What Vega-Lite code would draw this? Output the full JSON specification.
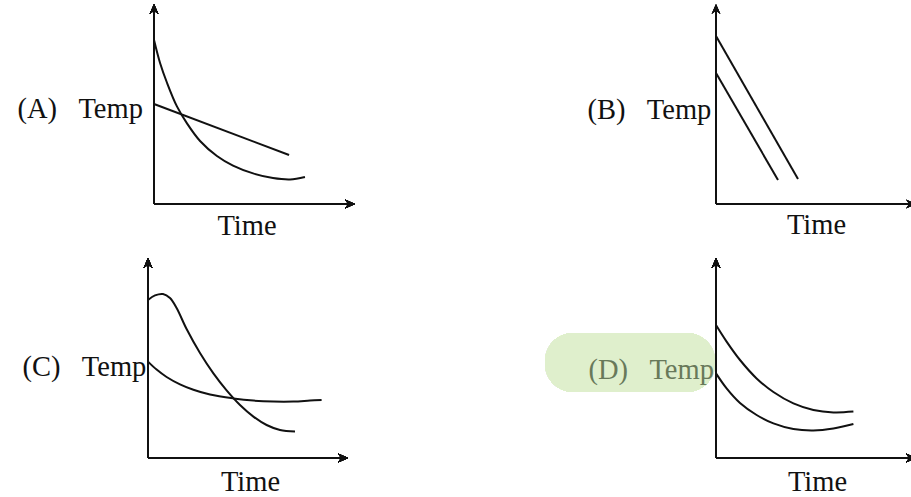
{
  "$schema": "https://vega.github.io/schema/vega-lite/v6.json",
  "padding": {"left": 17, "top": 4, "right": 0, "bottom": 0},
  "background": "white",
  "config": {
    "view": {"stroke": null},
    "axis": {"domain": false, "ticks": false, "labels": false, "grid": false, "titleFont": "Liberation Serif", "titleFontSize": 28.5, "titleFontWeight": "normal", "titleColor": "#111111", "titleAngle": 0, "titleBaseline": "alphabetic"},
    "line": {"color": "#111111", "strokeWidth": 2, "interpolate": "catmull-rom"},
    "rule": {"color": "#111111", "strokeWidth": 2},
    "point": {"color": "#111111", "filled": true, "opacity": 1}
  },
  "datasets": {
    "A": [
      {"series": "fast", "t": 0, "temp": 82}, {"series": "fast", "t": 3, "temp": 70.5}, {"series": "fast", "t": 6.5, "temp": 60.5}, {"series": "fast", "t": 11.4, "temp": 48.8}, {"series": "fast", "t": 16.4, "temp": 40.3}, {"series": "fast", "t": 22.9, "temp": 31.5}, {"series": "fast", "t": 31.3, "temp": 24}, {"series": "fast", "t": 39.3, "temp": 19.2}, {"series": "fast", "t": 49.3, "temp": 15.3}, {"series": "fast", "t": 59.2, "temp": 13}, {"series": "fast", "t": 67.7, "temp": 12.3}, {"series": "fast", "t": 75.1, "temp": 13.5},
      {"series": "slow", "t": 0, "temp": 50}, {"series": "slow", "t": 67.2, "temp": 24.5}
    ],
    "B": [
      {"series": "upper", "t": 0, "temp": 84}, {"series": "upper", "t": 41, "temp": 12.5},
      {"series": "lower", "t": 0, "temp": 65.5}, {"series": "lower", "t": 31, "temp": 12}
    ],
    "C": [
      {"series": "hump", "t": 0, "temp": 79}, {"series": "hump", "t": 3.5, "temp": 81.3}, {"series": "hump", "t": 7.5, "temp": 82}, {"series": "hump", "t": 11, "temp": 80}, {"series": "hump", "t": 14.3, "temp": 75}, {"series": "hump", "t": 19.3, "temp": 64.5}, {"series": "hump", "t": 26, "temp": 52.5}, {"series": "hump", "t": 32.7, "temp": 42.3}, {"series": "hump", "t": 39.3, "temp": 33.8}, {"series": "hump", "t": 46, "temp": 26.5}, {"series": "hump", "t": 52.7, "temp": 20.7}, {"series": "hump", "t": 59.3, "temp": 16.5}, {"series": "hump", "t": 66, "temp": 14}, {"series": "hump", "t": 73.5, "temp": 13.2},
      {"series": "flat", "t": 0, "temp": 48.2}, {"series": "flat", "t": 4.3, "temp": 44.2}, {"series": "flat", "t": 9.3, "temp": 40.5}, {"series": "flat", "t": 16, "temp": 36.8}, {"series": "flat", "t": 22.7, "temp": 34.1}, {"series": "flat", "t": 31, "temp": 31.7}, {"series": "flat", "t": 42.7, "temp": 29.8}, {"series": "flat", "t": 52.7, "temp": 28.7}, {"series": "flat", "t": 62.7, "temp": 28.2}, {"series": "flat", "t": 72.7, "temp": 28.2}, {"series": "flat", "t": 81, "temp": 28.7}, {"series": "flat", "t": 86.8, "temp": 29}
    ],
    "D": [
      {"series": "upper", "t": 0, "temp": 66.5}, {"series": "upper", "t": 5.3, "temp": 58.2}, {"series": "upper", "t": 12, "temp": 49}, {"series": "upper", "t": 20.3, "temp": 39.8}, {"series": "upper", "t": 28.7, "temp": 33}, {"series": "upper", "t": 38.7, "temp": 27.3}, {"series": "upper", "t": 48.7, "temp": 24}, {"series": "upper", "t": 58.7, "temp": 22.8}, {"series": "upper", "t": 68.7, "temp": 23.2},
      {"series": "lower", "t": 0, "temp": 42.3}, {"series": "lower", "t": 5.3, "temp": 34.8}, {"series": "lower", "t": 12, "temp": 27.5}, {"series": "lower", "t": 20.3, "temp": 21.5}, {"series": "lower", "t": 28.7, "temp": 17.3}, {"series": "lower", "t": 38.7, "temp": 14.5}, {"series": "lower", "t": 48.7, "temp": 13.8}, {"series": "lower", "t": 58.7, "temp": 14.8}, {"series": "lower", "t": 68.7, "temp": 17}
    ]
  },
  "columns": 2,
  "spacing": {"row": 54, "column": 361},
  "bounds": "flush",
  "concat": [
    {
      "width": 207, "height": 200,
      "data": {"name": "A"},
      "layer": [
        {"mark": "rule", "encoding": {"x": {"datum": 0}, "y": {"datum": 0}, "y2": {"datum": 98}}},
        {"mark": "rule", "encoding": {"x": {"datum": 0}, "x2": {"datum": 98}, "y": {"datum": 0}}},
        {"mark": {"type": "point", "shape": "M0,0L-1.1,2.5L0,1.7L1.1,2.5Z", "size": 64}, "encoding": {"x": {"datum": 0}, "y": {"datum": 100}}},
        {"mark": {"type": "point", "shape": "M0,0L-2.5,-1.1L-1.7,0L-2.5,1.1Z", "size": 64}, "encoding": {"x": {"datum": 100}, "y": {"datum": 0}}},
        {"mark": "line", "encoding": {
          "x": {"field": "t", "type": "quantitative", "scale": {"domain": [-3, 100], "nice": false, "zero": false}, "axis": {"title": "Time", "titleAlign": "center", "titleX": 98.5, "titleY": 30}},
          "y": {"field": "temp", "type": "quantitative", "scale": {"domain": [0, 100], "nice": false, "zero": false}, "axis": {"title": "(A)\u00a0\u00a0\u00a0Temp", "titleAlign": "left", "titleX": -131, "titleY": 113.5}},
          "detail": {"field": "series"}
        }}
      ]
    },
    {
      "width": 200, "height": 200,
      "data": {"name": "B"},
      "layer": [
        {"mark": "rule", "encoding": {"x": {"datum": 0}, "y": {"datum": 0}, "y2": {"datum": 98}}},
        {"mark": "rule", "encoding": {"x": {"datum": 0}, "x2": {"datum": 98}, "y": {"datum": 0}}},
        {"mark": {"type": "point", "shape": "M0,0L-1.1,2.5L0,1.7L1.1,2.5Z", "size": 64}, "encoding": {"x": {"datum": 0}, "y": {"datum": 100}}},
        {"mark": {"type": "point", "shape": "M0,0L-2.5,-1.1L-1.7,0L-2.5,1.1Z", "size": 64}, "encoding": {"x": {"datum": 100}, "y": {"datum": 0}}},
        {"mark": "line", "encoding": {
          "x": {"field": "t", "type": "quantitative", "scale": {"domain": [0, 100], "nice": false, "zero": false}, "axis": {"title": "Time", "titleAlign": "center", "titleX": 100, "titleY": 29}},
          "y": {"field": "temp", "type": "quantitative", "scale": {"domain": [0, 100], "nice": false, "zero": false}, "axis": {"title": "(B)\u00a0\u00a0\u00a0Temp", "titleAlign": "left", "titleX": -129, "titleY": 114}},
          "detail": {"field": "series"}
        }}
      ]
    },
    {
      "width": 200, "height": 200,
      "data": {"name": "C"},
      "layer": [
        {"mark": "rule", "encoding": {"x": {"datum": 0}, "y": {"datum": 0}, "y2": {"datum": 98}}},
        {"mark": "rule", "encoding": {"x": {"datum": 0}, "x2": {"datum": 98}, "y": {"datum": 0}}},
        {"mark": {"type": "point", "shape": "M0,0L-1.1,2.5L0,1.7L1.1,2.5Z", "size": 64}, "encoding": {"x": {"datum": 0}, "y": {"datum": 100}}},
        {"mark": {"type": "point", "shape": "M0,0L-2.5,-1.1L-1.7,0L-2.5,1.1Z", "size": 64}, "encoding": {"x": {"datum": 100}, "y": {"datum": 0}}},
        {"mark": "line", "encoding": {
          "x": {"field": "t", "type": "quantitative", "scale": {"domain": [0, 100], "nice": false, "zero": false}, "axis": {"title": "Time", "titleAlign": "center", "titleX": 102, "titleY": 32}},
          "y": {"field": "temp", "type": "quantitative", "scale": {"domain": [0, 100], "nice": false, "zero": false}, "axis": {"title": "(C)\u00a0\u00a0\u00a0Temp", "titleAlign": "left", "titleX": -126, "titleY": 117}},
          "detail": {"field": "series"}
        }}
      ]
    },
    {
      "width": 200, "height": 200,
      "data": {"name": "D"},
      "layer": [
        {"mark": {"type": "rect", "color": "#dfefcc", "cornerRadius": 28, "opacity": 1}, "encoding": {"x": {"datum": -85.5}, "x2": {"datum": -0.5}, "y": {"datum": 62.5}, "y2": {"datum": 33}}},
        {"mark": "rule", "encoding": {"x": {"datum": 0}, "y": {"datum": 0}, "y2": {"datum": 98}}},
        {"mark": "rule", "encoding": {"x": {"datum": 0}, "x2": {"datum": 98}, "y": {"datum": 0}}},
        {"mark": {"type": "point", "shape": "M0,0L-1.1,2.5L0,1.7L1.1,2.5Z", "size": 64}, "encoding": {"x": {"datum": 0}, "y": {"datum": 100}}},
        {"mark": {"type": "point", "shape": "M0,0L-2.5,-1.1L-1.7,0L-2.5,1.1Z", "size": 64}, "encoding": {"x": {"datum": 100}, "y": {"datum": 0}}},
        {"mark": "line", "encoding": {
          "x": {"field": "t", "type": "quantitative", "scale": {"domain": [0, 100], "nice": false, "zero": false}, "axis": {"title": "Time", "titleAlign": "center", "titleX": 101, "titleY": 32}},
          "y": {"field": "temp", "type": "quantitative", "scale": {"domain": [0, 100], "nice": false, "zero": false}, "axis": {"title": "(D)\u00a0\u00a0\u00a0Temp", "titleAlign": "left", "titleX": -128, "titleY": 120, "titleColor": "#68795a", "zindex": 1}},
          "detail": {"field": "series"}
        }}
      ]
    }
  ]
}
